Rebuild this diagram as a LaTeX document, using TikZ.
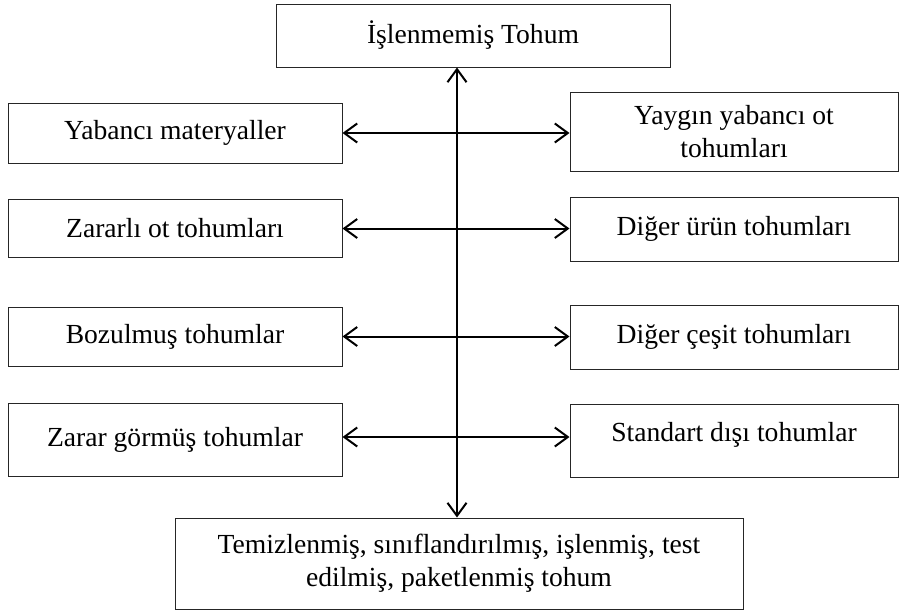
\documentclass[tikz,border=0pt]{standalone}
\usepackage{fontspec}
\setmainfont{Liberation Serif}
\usetikzlibrary{arrows.meta}
\tikzset{
  box/.style={draw=black!85, line width=1pt, inner sep=0pt, align=center,
    font=\fontsize{27.6}{33}\selectfont},
  link/.style={line width=2pt, {Straight Barb[length=13pt,width=19pt,line width=2pt]}-{Straight Barb[length=13pt,width=19pt,line width=2pt]}}
}
\begin{document}
\begin{tikzpicture}[x=1pt,y=-1pt]
\useasboundingbox (0,0) rectangle (899,611);
\node[box, minimum width=394pt, minimum height=63pt] (top) at (473,35.5) {İşlenmemiş Tohum};
\node[box, minimum width=334pt, minimum height=60pt] (l1) at (175,133) {Yabancı materyaller};
\node[box, minimum width=328pt, minimum height=79pt] (r1) at (734,131.5) {Yaygın yabancı ot\\tohumları};
\node[box, minimum width=334pt, minimum height=58pt] (l2) at (175,228.5) {Zararlı ot tohumları};
\node[box, minimum width=328pt, minimum height=64pt] (r2) at (734,229) {Diğer ürün tohumları};
\node[box, minimum width=334pt, minimum height=59pt] (l3) at (175,336.5) {Bozulmuş tohumlar};
\node[box, minimum width=328pt, minimum height=64pt] (r3) at (734,337) {Diğer çeşit tohumları};
\node[box, minimum width=334pt, minimum height=73pt] (l4) at (175,439.5) {Zarar görmüş tohumlar};
\node[box, minimum width=328pt, minimum height=73pt, text height=19pt, text depth=17pt] (r4) at (734,440.5) {Standart dışı tohumlar};
\node[box, minimum width=568pt, minimum height=91pt] (bot) at (459,563.5) {Temizlenmiş, sınıflandırılmış, işlenmiş, test\\edilmiş, paketlenmiş tohum};
\coordinate (vx) at (457,0);
\coordinate (a4) at ([yshift=2.5pt]l4.east);
\draw[link] (top.south -| vx) -- (bot.north -| vx);
\draw[link] (l1.east) -- (r1.west |- l1.east);
\draw[link] (l2.east) -- (r2.west |- l2.east);
\draw[link] (l3.east) -- (r3.west |- l3.east);
\draw[link] (a4) -- (r4.west |- a4);
\end{tikzpicture}
\end{document}
